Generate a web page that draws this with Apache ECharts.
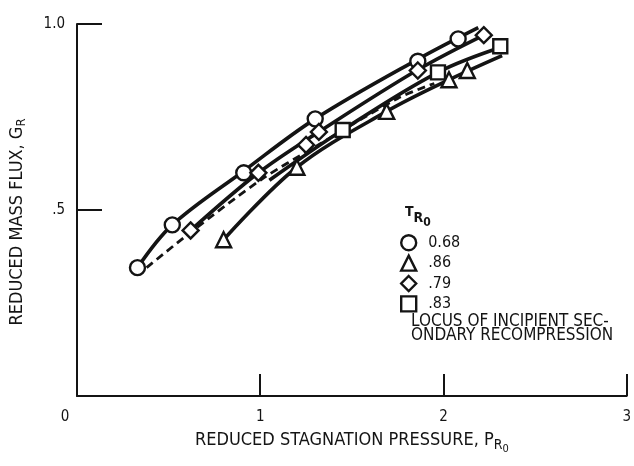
<!DOCTYPE html>
<html>
<head>
<meta charset="utf-8">
<script src="https://cdn.jsdelivr.net/npm/echarts@6/dist/echarts.min.js"></script>
<style>
  html, body { margin: 0; padding: 0; background: #fff; }
  #chart { width: 634px; height: 466px; }
</style>
</head>
<body>
<div id="chart"></div>
<script>
// Reduced stagnation pressure (x) vs reduced mass flux (y), one set per T_R0
const seriesNames = ['0.68', '.86', '.79', '.83'];
const seriesSymbols = ['circle', 'triangle', 'diamond', 'rect'];

const pointsT068 = [[0.33, 0.345], [0.52, 0.46], [0.91, 0.60], [1.30, 0.745], [1.86, 0.90], [2.08, 0.96]];
const pointsT086 = [[0.80, 0.42], [1.20, 0.615], [1.69, 0.765], [2.03, 0.85], [2.13, 0.875]];
const pointsT079 = [[0.62, 0.445], [0.99, 0.60], [1.25, 0.675], [1.32, 0.71], [1.86, 0.875], [2.22, 0.97]];
const pointsT083 = [[1.45, 0.715], [1.97, 0.87], [2.31, 0.94]];

// Faired curves drawn through each data set
const curveT068 = [[0.33, 0.345], [0.52, 0.46], [0.91, 0.605], [1.30, 0.745], [1.86, 0.905], [2.19, 0.99]];
const curveT086 = [[0.80, 0.42], [1.20, 0.615], [1.69, 0.765], [2.03, 0.85], [2.32, 0.915]];
const curveT079 = [[0.62, 0.445], [0.99, 0.60], [1.32, 0.71], [1.86, 0.877], [2.24, 0.975]];
const curveT083 = [[1.05, 0.58], [1.45, 0.715], [1.97, 0.87], [2.33, 0.94]];
const curveLocus = [[0.38, 0.345], [0.62, 0.44], [1.00, 0.58], [1.30, 0.67], [1.75, 0.80], [1.95, 0.84]];

const xTickLabels = ['0', '1', '2', '3'];
const yTickValues = [0, 0.5, 1];
const yTickLabels = ['', '.5', '1.0'];

const FONT = '"Liberation Sans Narrow", "DejaVu Sans Condensed", "Noto Sans", sans-serif';
const INK = '#141414';

const markerStyle = { color: '#fff', borderColor: INK, borderWidth: 2.4, opacity: 1 };
const curveLine = { color: INK, width: 3.6 };

function curve(data, extra) {
  return Object.assign({
    type: 'line', data: data, smooth: 0.35, showSymbol: false, silent: true,
    lineStyle: curveLine, z: 2, name: '_c'
  }, extra || {});
}
function markers(name, symbol, data, size) {
  return {
    type: 'scatter', name: name, data: data, symbol: symbol, symbolSize: size,
    itemStyle: markerStyle, z: 5, silent: true
  };
}

const chart = echarts.init(document.getElementById('chart'), null, { renderer: 'canvas' });

chart.setOption({
  animation: false,
  backgroundColor: '#fff',
  textStyle: { fontFamily: FONT, color: INK },
  grid: { left: 74, right: 4, top: 24, bottom: 70 },
  xAxis: {
    type: 'value', min: 0, max: 3, interval: 1,
    axisLine: { lineStyle: { color: INK, width: 2 } },
    axisTick: { inside: true, length: 22, lineStyle: { color: INK, width: 2 } },
    splitLine: { show: false },
    axisLabel: {
      margin: 14, fontSize: 15, color: INK, fontFamily: FONT,
      formatter: function (v) {
        const s = xTickLabels[Math.round(v)];
        return v === 0 ? '{z|' + s + '}' : s;
      },
      rich: { z: { fontSize: 15, fontFamily: FONT, color: INK, padding: [0, 24, 0, 0] } }
    },
    name: '{m|REDUCED STAGNATION PRESSURE, P}{s|R}{ss|0}',
    nameLocation: 'middle', nameGap: 35,
    nameTextStyle: {
      rich: {
        m: { fontSize: 18, fontFamily: FONT, color: INK, verticalAlign: 'top', lineHeight: 20 },
        s: { fontSize: 14, fontFamily: FONT, color: INK, verticalAlign: 'top', padding: [7, 0, 0, 0], lineHeight: 20 },
        ss: { fontSize: 11, fontFamily: FONT, color: INK, verticalAlign: 'top', padding: [13, 0, 0, 0], lineHeight: 20 }
      }
    }
  },
  yAxis: {
    type: 'value', min: 0, max: 1, interval: 0.5,
    axisLine: { show: true, lineStyle: { color: INK, width: 2 } },
    axisTick: { show: true, inside: true, length: 25, lineStyle: { color: INK, width: 2 } },
    splitLine: { show: false },
    axisLabel: {
      margin: 12, fontSize: 15, color: INK, fontFamily: FONT,
      formatter: function (v) {
        const i = yTickValues.indexOf(v);
        return i >= 0 ? yTickLabels[i] : '';
      }
    },
    name: '{m|REDUCED MASS FLUX, G}{s|R}',
    nameLocation: 'middle', nameGap: 49, nameRotate: 90,
    nameTextStyle: {
      padding: [0, 24, 0, 0],
      rich: {
        m: { fontSize: 18, fontFamily: FONT, color: INK, verticalAlign: 'top', lineHeight: 20 },
        s: { fontSize: 13, fontFamily: FONT, color: INK, verticalAlign: 'top', padding: [7, 0, 0, 0], lineHeight: 20 }
      }
    }
  },
  legend: {
    orient: 'vertical', left: 395, top: 229, itemGap: 3,
    itemWidth: 15, itemHeight: 15,
    textStyle: { fontSize: 16, fontFamily: FONT, color: INK, padding: [0, 0, 0, 7] },
    itemStyle: markerStyle,
    data: seriesNames.map(function (n, i) { return { name: n, icon: seriesSymbols[i] }; }),
    selectedMode: false
  },
  title: [
    {
      text: '{t|T}{s|R}{ss|0}', left: 400, top: 200,
      textStyle: {
        rich: {
          t: { fontSize: 14, fontFamily: FONT, color: INK, verticalAlign: 'top', lineHeight: 16 },
          s: { fontSize: 14, fontFamily: FONT, color: INK, verticalAlign: 'top', padding: [6, 0, 0, 0], lineHeight: 16 },
          ss: { fontSize: 12, fontFamily: FONT, color: INK, verticalAlign: 'top', padding: [12, 0, 0, 0], lineHeight: 16 }
        }
      }
    },
    {
      text: 'LOCUS OF INCIPIENT SEC-\nONDARY RECOMPRESSION', left: 406, top: 310,
      textStyle: { fontSize: 17, fontWeight: 'normal', fontFamily: FONT, color: INK, lineHeight: 14 }
    }
  ],
  series: [
    curve(curveT068),
    curve(curveT079),
    curve(curveT083),
    curve(curveT086),
    curve(curveLocus, { lineStyle: { color: INK, width: 2.8, type: [8, 5] }, smooth: 0.3 }),
    markers(seriesNames[0], seriesSymbols[0], pointsT068, 15),
    markers(seriesNames[1], seriesSymbols[1], pointsT086, 15),
    markers(seriesNames[2], seriesSymbols[2], pointsT079, 16),
    markers(seriesNames[3], seriesSymbols[3], pointsT083, 14)
  ]
});
</script>
</body>
</html>
